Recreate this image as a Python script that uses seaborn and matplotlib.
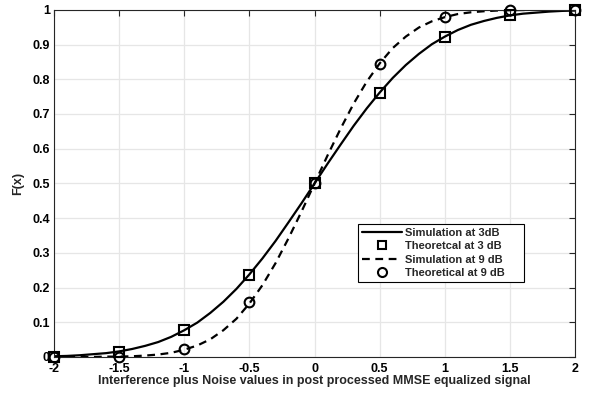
import numpy as np
import pandas as pd
import matplotlib
matplotlib.use("Agg")
import matplotlib.pyplot as plt
import seaborn as sns
from matplotlib.lines import Line2D

# Courbes simulées (lues sur la figure, pas de 0.1)
x_sim = [-2.0, -1.9, -1.8, -1.7, -1.6, -1.5, -1.4, -1.3, -1.2, -1.1, -1.0,
         -0.9, -0.8, -0.7, -0.6, -0.5, -0.4, -0.3, -0.2, -0.1, 0.0,
         0.1, 0.2, 0.3, 0.4, 0.5, 0.6, 0.7, 0.8, 0.9, 1.0,
         1.1, 1.2, 1.3, 1.4, 1.5, 1.6, 1.7, 1.8, 1.9, 2.0]
sim_3db = [0.002, 0.003, 0.005, 0.008, 0.011, 0.016, 0.023, 0.032, 0.043, 0.058, 0.077,
           0.099, 0.127, 0.159, 0.196, 0.238, 0.284, 0.334, 0.388, 0.443, 0.500,
           0.557, 0.612, 0.666, 0.716, 0.762, 0.804, 0.841, 0.873, 0.901, 0.923,
           0.942, 0.957, 0.968, 0.977, 0.984, 0.989, 0.992, 0.995, 0.997, 0.998]
sim_9db = [0.000, 0.000, 0.000, 0.000, 0.001, 0.001, 0.002, 0.004, 0.007, 0.012, 0.021,
           0.033, 0.051, 0.077, 0.110, 0.154, 0.207, 0.270, 0.342, 0.419, 0.500,
           0.581, 0.658, 0.730, 0.793, 0.846, 0.890, 0.923, 0.949, 0.967, 0.979,
           0.988, 0.993, 0.996, 0.998, 0.999, 0.9995, 0.9998, 0.9999, 1.000, 1.000]

# Points théoriques
x_th = [-2.0, -1.5, -1.0, -0.5, 0.0, 0.5, 1.0, 1.5, 2.0]
th_3db = [0.0, 0.015, 0.077, 0.237, 0.5, 0.760, 0.922, 0.984, 1.0]
th_9db = [0.0, 0.001, 0.022, 0.157, 0.5, 0.845, 0.979, 0.999, 1.0]

x_ticks = [-2, -1.5, -1, -0.5, 0, 0.5, 1, 1.5, 2]
x_tick_labels = ["-2", "-1.5", "-1", "-0.5", "0", "0.5", "1", "1.5", "2"]
y_ticks = [0, 0.1, 0.2, 0.3, 0.4, 0.5, 0.6, 0.7, 0.8, 0.9, 1]
y_tick_labels = ["0", "0.1", "0.2", "0.3", "0.4", "0.5", "0.6", "0.7", "0.8", "0.9", "1"]

sns.set_style("white")
plt.rcParams["font.family"] = ["Liberation Sans", "DejaVu Sans"]
plt.rcParams["font.weight"] = "bold"

df_sim = pd.DataFrame({"x": x_sim, "s3": sim_3db, "s9": sim_9db})
df_th = pd.DataFrame({"x": x_th, "t3": th_3db, "t9": th_9db})

fig = plt.figure(figsize=(5.93, 3.94), dpi=100)
ax = fig.add_axes([0.091, 0.094, 0.879, 0.881])

sns.lineplot(data=df_sim, x="x", y="s3", ax=ax, color="black", lw=1.6)
sns.lineplot(data=df_sim, x="x", y="s9", ax=ax, color="black", lw=1.6,
             linestyle=(0, (3.5, 2.5)))
ax.plot(df_th["x"], df_th["t3"], ls="none", marker="s", ms=6.5,
        mfc="none", mec="black", mew=1.5, clip_on=False, zorder=5)
ax.plot(df_th["x"], df_th["t9"], ls="none", marker="o", ms=7,
        mfc="none", mec="black", mew=1.5, clip_on=False, zorder=5)

ax.set_xlim(-2, 2)
ax.set_ylim(0, 1)
ax.set_xticks(x_ticks)
ax.set_xticklabels(x_tick_labels)
ax.set_yticks(y_ticks)
ax.set_yticklabels(y_tick_labels)
ax.grid(True, color="#e6e6e6", lw=0.9)
ax.set_axisbelow(True)
ax.tick_params(direction="in", length=4, width=0.8, colors="#262626",
               top=True, right=True, labelsize=9)
ax.tick_params(axis="x", pad=4)
ax.tick_params(axis="y", pad=3)
for lab in ax.get_xticklabels() + ax.get_yticklabels():
    lab.set_fontweight("bold")
    lab.set_color("black")
for sp in ax.spines.values():
    sp.set_color("#262626")
    sp.set_linewidth(0.8)

ax.set_xlabel("Interference plus Noise values in post processed MMSE equalized signal",
              fontsize=9, fontweight="bold", color="#262626", labelpad=0)
ax.set_ylabel("F(x)", fontsize=9, fontweight="bold", color="#262626", labelpad=6)

handles = [
    Line2D([], [], color="black", lw=1.6),
    Line2D([], [], ls="none", marker="s", ms=6, mfc="none", mec="black", mew=1.5),
    Line2D([], [], color="black", lw=1.6, linestyle=(0, (3.5, 2.5))),
    Line2D([], [], ls="none", marker="o", ms=6.5, mfc="none", mec="black", mew=1.5),
]
labels = ["Simulation at 3dB", "Theoretcal at 3 dB",
          "Simulation at 9 dB", "Theoretical at 9 dB"]
leg = ax.legend(handles, labels, loc="upper left",
                bbox_to_anchor=(0.5835, 0.216, 0.3185, 0.167), mode="expand",
                fontsize=8, frameon=True, fancybox=False, framealpha=1,
                edgecolor="black", borderpad=0.35, labelspacing=0.3,
                handlelength=3.6, handletextpad=0.25, borderaxespad=0)
leg.get_frame().set_linewidth(0.8)
for t in leg.get_texts():
    t.set_fontweight("bold")

fig.savefig("out.png", dpi=100)
